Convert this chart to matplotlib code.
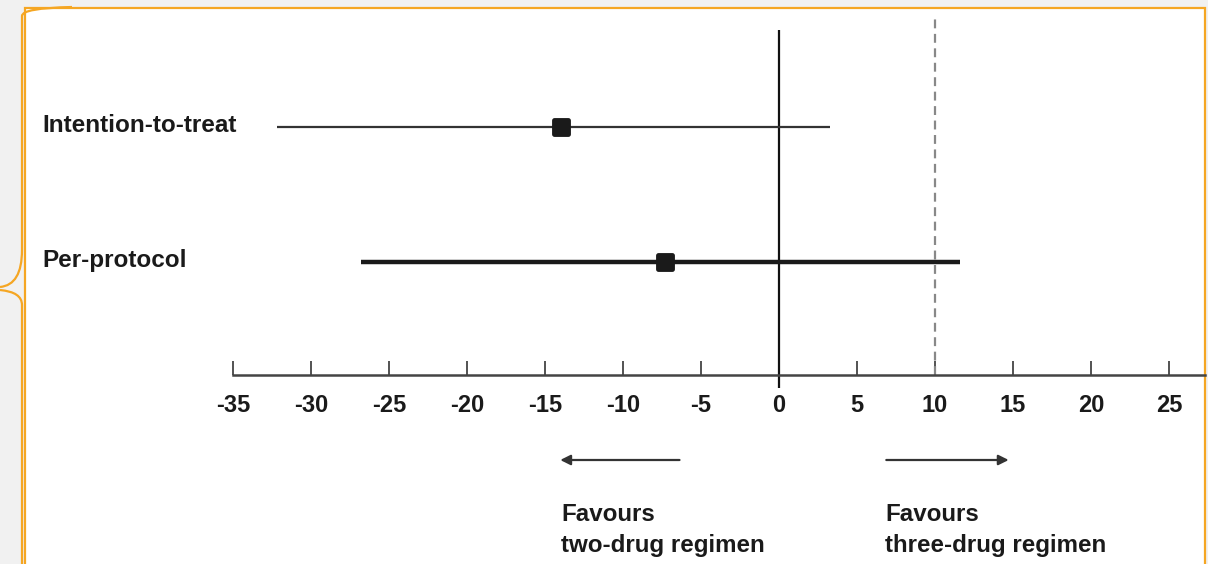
import numpy as np
import matplotlib.pyplot as plt
from matplotlib.patches import Rectangle, PathPatch
from matplotlib.path import Path
from matplotlib.markers import MarkerStyle

plt.rcParams['font.family'] = ['Liberation Sans', 'DejaVu Sans']
plt.rcParams['axes.unicode_minus'] = False

analyses = ['Intention-to-treat', 'Per-protocol']
estimate = [-14.0, -7.3]
ci_low = [-32.2, -26.8]
ci_high = [3.3, 11.6]
margin = 10
xticks = [-35, -30, -25, -20, -15, -10, -5, 0, 5, 10, 15, 20, 25]

W, H = 1208, 564
px = 15.6  # pixels per unit on the x axis
fig = plt.figure(figsize=(W / 100, H / 100), dpi=100)
fig.patch.set_facecolor('#f1f1f1')

# white panel with orange frame and the brace on the left
fig.patches.append(Rectangle((25 / W, -0.05), 1180 / W, (H - 8) / H + 0.05,
                             transform=fig.transFigure, facecolor='white',
                             edgecolor='#f5a623', linewidth=1.6, zorder=-10))
verts = [(72, 7), (22, 8), (22, 16), (22, 250), (22, 285),
         (0, 287), (0, 290), (22, 292), (22, 305), (22, 564)]
verts = [(x / W, 1 - y / H) for x, y in verts]
codes = [Path.MOVETO, Path.CURVE3, Path.CURVE3, Path.LINETO,
         Path.CURVE3, Path.CURVE3, Path.MOVETO, Path.CURVE3, Path.CURVE3,
         Path.LINETO]
fig.patches.append(PathPatch(Path(verts, codes), transform=fig.transFigure,
                             facecolor='none', edgecolor='#f5a623', linewidth=1.6,
                             zorder=-5))

# axes: bottom spine at pixel 375, rows at 127 and 262
rows = [2, 1]
unit = 135.0
y_bottom = 1 - (375 - 262) / unit
y_top = 2 + (127 - 15) / unit
ax = fig.add_axes([233 / W, 1 - 375 / H, (1205 - 233) / W, (375 - 15) / H])
ax.set_zorder(1)
ax.set_facecolor('none')
ax.set_xlim(-35, -35 + (1205 - 233) / px)
ax.set_ylim(y_bottom, y_top)

for s in ['top', 'right', 'left']:
    ax.spines[s].set_visible(False)
ax.spines['bottom'].set_color('#444444')
ax.spines['bottom'].set_linewidth(1.8)
ax.set_yticks([])
ax.set_xticks(xticks)
ax.set_xticklabels([str(t) for t in xticks], fontsize=17, fontweight='bold',
                   color='#1a1a1a')
ax.tick_params(axis='x', direction='in', length=10, width=1.3, color='#444444', pad=14)

# reference lines
ax.vlines(0, y_bottom - 13 / unit, 2 + 97 / unit, color='#111111', lw=1.6, clip_on=False)
ax.vlines(margin, y_bottom, y_top, color='#888888', lw=1.6, linestyles=(0, (4, 2.5)))

widths = [1.6, 3.2]
colors = ['#333333', '#1a1a1a']
sizes = [10.5, 9.5]
label_y = [125, 260]
rounded = MarkerStyle('s', joinstyle='round')
for i in range(len(analyses)):
    ax.hlines(rows[i], ci_low[i], ci_high[i], color=colors[i], lw=widths[i])
    ax.plot(estimate[i], rows[i], marker=rounded, ms=sizes[i], color='#1a1a1a',
            markeredgewidth=3.5, markeredgecolor='#1a1a1a')
    ax.text(42, H - label_y[i], analyses[i], transform=None,
            fontsize=17.5, fontweight='bold', va='center', ha='left', color='#1a1a1a')

# direction arrows and captions
arrow_y = H - 460
ax.annotate('', xy=(-14.2, arrow_y), xytext=(-6.2, arrow_y),
            xycoords=('data', 'figure pixels'), textcoords=('data', 'figure pixels'),
            arrowprops=dict(arrowstyle='-|>', color='#333333', lw=1.6, mutation_scale=15),
            annotation_clip=False)
ax.annotate('', xy=(14.9, arrow_y), xytext=(6.7, arrow_y),
            xycoords=('data', 'figure pixels'), textcoords=('data', 'figure pixels'),
            arrowprops=dict(arrowstyle='-|>', color='#333333', lw=1.6, mutation_scale=15),
            annotation_clip=False)
fig.text(561 / W, 1 - 503 / H, 'Favours\ntwo-drug regimen', fontsize=17.4,
         fontweight='bold', va='top', ha='left', color='#1a1a1a', linespacing=1.45)
fig.text(885 / W, 1 - 503 / H, 'Favours\nthree-drug regimen', fontsize=17.4,
         fontweight='bold', va='top', ha='left', color='#1a1a1a', linespacing=1.45)

plt.savefig('out.png', dpi=100, facecolor=fig.get_facecolor())
